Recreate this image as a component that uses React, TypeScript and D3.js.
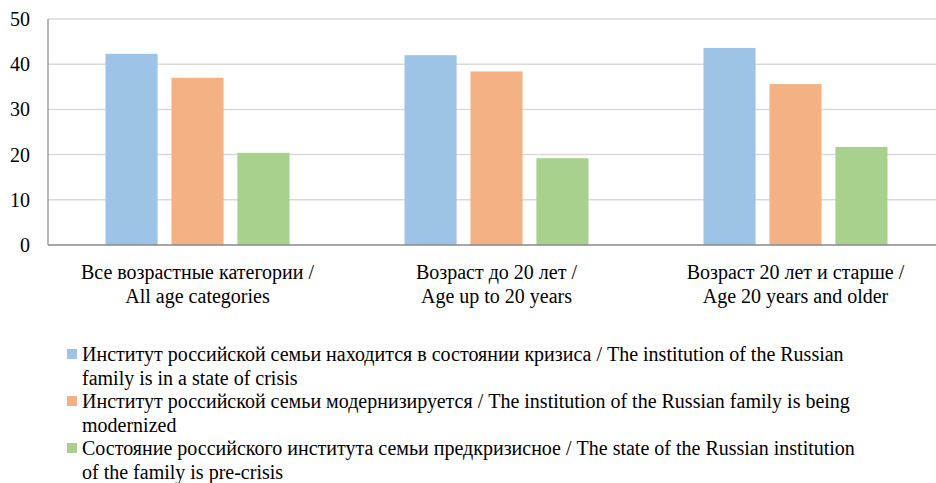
import * as d3 from "d3";

// категории по оси X (две строки подписи)
const categories = [
  ["Все возрастные категории /", "All age categories"],
  ["Возраст до 20 лет /", "Age up to 20 years"],
  ["Возраст 20 лет и старше /", "Age 20 years and older"],
];

const crisis = [42.3, 42.0, 43.6];
const modernizing = [37.0, 38.4, 35.6];
const preCrisis = [20.4, 19.2, 21.7];

const yTicks = [0, 10, 20, 30, 40, 50];

const legendLabels = [
  ["Институт российской семьи находится в состоянии кризиса / The institution of the Russian", "family is in a state of crisis"],
  ["Институт российской семьи модернизируется / The institution of the Russian family is being", "modernized"],
  ["Состояние российского института семьи предкризисное / The state of the Russian institution", "of the family is pre-crisis"],
];

const colors = ["#9dc3e6", "#f4b183", "#a9d18e"];

const W = 936;
const H = 483;
const margin = { left: 48, right: 945, top: 19, bottom: 245 };
const font = "Liberation Serif, Tinos, serif";

const series = [crisis, modernizing, preCrisis];
const idx = categories.map((_, i) => i);

const x = d3.scaleBand<number>().domain(idx).range([margin.left, margin.right]);
const inner = d3.scaleBand<number>()
  .domain([0, 1, 2])
  .range([57.5, x.bandwidth() - 57.5])
  .paddingInner(0.21);
const y = d3.scaleLinear().domain([0, 50]).range([margin.bottom, margin.top]);

const App = () => {
  const txt = { fontFamily: font, fontSize: 20, fill: "#000" };
  return (
    <svg width={W} height={H} style={{ display: "block", position: "absolute", left: 0, top: 0 }}>
      {/* сетка */}
      {yTicks.filter(t => t > 0).map(t => (
        <line key={t} x1={margin.left} x2={W} y1={y(t)} y2={y(t)} stroke="#d9d9d9" strokeWidth={1.5} />
      ))}
      {/* столбцы */}
      {series.map((vals, s) =>
        vals.map((v, i) => (
          <rect
            key={`${s}-${i}`}
            x={(x(i) as number) + (inner(s) as number)}
            y={y(v)}
            width={inner.bandwidth()}
            height={y(0) - y(v)}
            fill={colors[s]}
          />
        ))
      )}
      {/* оси */}
      <line x1={margin.left} x2={margin.left} y1={y(50)} y2={y(0)} stroke="#898989" strokeWidth={1.2} />
      <line x1={margin.left} x2={W} y1={y(0)} y2={y(0)} stroke="#898989" strokeWidth={1.5} />
      {yTicks.map(t => (
        <text key={t} x={30} y={y(t) + 7} textAnchor="end" style={txt}>{t}</text>
      ))}
      {/* подписи категорий */}
      {categories.map((lines, i) =>
        lines.map((ln, j) => (
          <text key={`${i}-${j}`} x={(x(i) as number) + x.bandwidth() / 2} y={279 + j * 24} textAnchor="middle" style={txt}>{ln}</text>
        ))
      )}
      {/* легенда */}
      {legendLabels.map((lines, s) => {
        const base = 361 + s * 47;
        return (
          <g key={s}>
            <rect x={67} y={base - 12} width={10} height={10} fill={colors[s]} />
            {lines.map((ln, j) => (
              <text key={j} x={82} y={base + j * 23.5} style={txt}>{ln}</text>
            ))}
          </g>
        );
      })}
    </svg>
  );
};

export default App;
